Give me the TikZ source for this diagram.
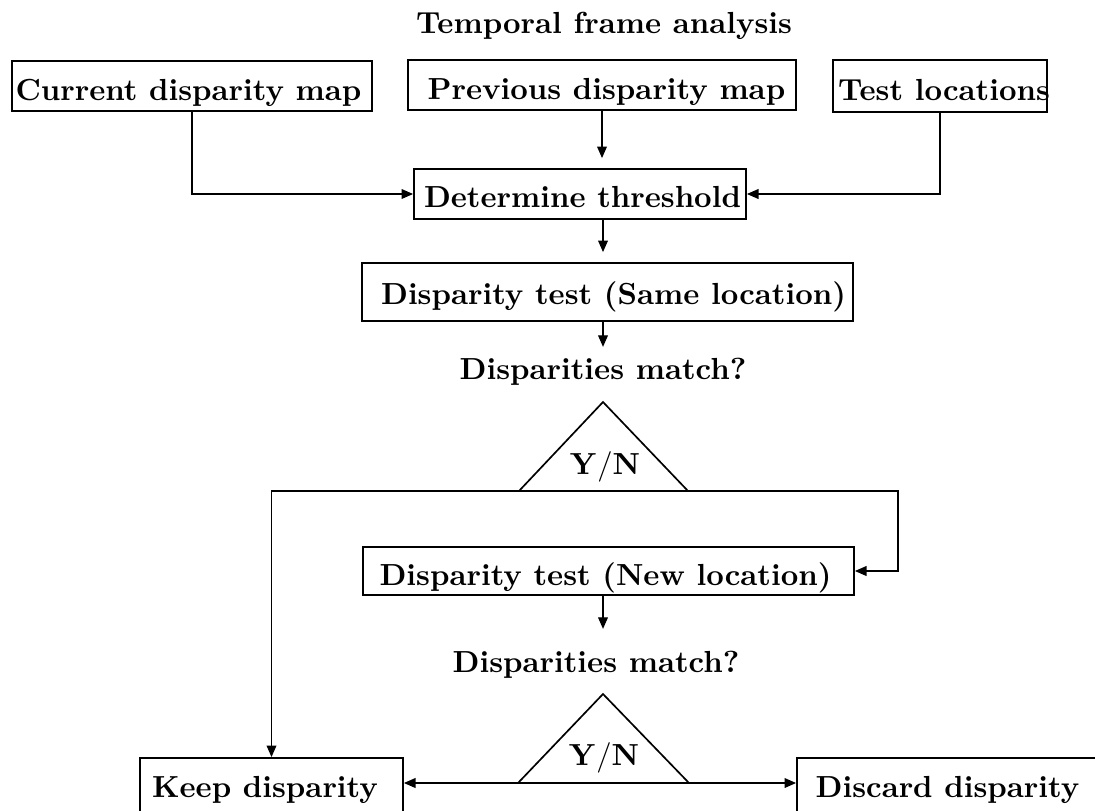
\documentclass[tikz,border=0pt]{standalone}
\usetikzlibrary{arrows.meta}
\newdimen\pxu
\pxu=0.328pt
% text inside a fixed-size box, moved sideways by #1 (in px units)
\newcommand\boxtext[2]{\makebox[0pt]{\hspace*{#1\pxu}\hspace*{#1\pxu}#2}}
\tikzset{
  stepbox/.style={draw, line width=0.6pt, inner sep=0pt, font=\bfseries},
  wire/.style={line width=0.45pt, -{Triangle[length=3.8pt, width=3.2pt]}},
  lbl/.style={font=\bfseries, anchor=base},
  tri/.style={line width=0.55pt, line join=miter},
}
\begin{document}
\begin{tikzpicture}[x=0.328pt, y=-0.328pt]
\useasboundingbox (0,0) rectangle (1095,810);
\clip (0,0) rectangle (1095,810);

% title
\node[lbl] (title) at (604,33) {Temporal frame analysis};

% inputs
\node[stepbox, minimum width=360*\pxu, text height=39*\pxu, text depth=11*\pxu]
  (cur) at (192,86) {\boxtext{-3.5}{Current disparity map}};
\node[stepbox, minimum width=388*\pxu, text height=39*\pxu, text depth=11*\pxu]
  (prev) at (602,85) {\boxtext{4.5}{Previous disparity map}};
\node[stepbox, minimum width=214*\pxu, text height=40*\pxu, text depth=12*\pxu]
  (test) at (940,86) {\boxtext{4}{Test locations}};

% processing steps
\node[stepbox, minimum width=332*\pxu, text height=38*\pxu, text depth=12*\pxu]
  (det) at (580,194) {\boxtext{2.5}{Determine threshold}};
\node[stepbox, minimum width=491*\pxu, text height=41*\pxu, text depth=17*\pxu]
  (same) at (607.5,292) {\boxtext{6}{Disparity test (Same location)}};
\node[stepbox, minimum width=491*\pxu, text height=38*\pxu, text depth=10*\pxu]
  (new) at (608.5,571) {\boxtext{-3}{Disparity test (New location)}};

% outcomes
\node[stepbox, minimum width=263*\pxu, text height=39*\pxu, text depth=15*\pxu]
  (keep) at (271.5,785) {\boxtext{-6.5}{Keep disparity}};
\node[stepbox, minimum width=303*\pxu, text height=39*\pxu, text depth=15*\pxu]
  (disc) at (948.5,785) {\boxtext{-1}{Discard disparity}};

% decisions
\node[lbl] (m1) at (603,379) {Disparities match?};
\coordinate (t1a) at (603,402);
\coordinate (t1l) at (519,491);
\coordinate (t1r) at (688,491);
\draw[tri] (t1a) -- (t1l) -- (t1r) -- cycle;
\node[lbl] (yn1) at (605,474) {$\mathbf{Y/N}$};

\node[lbl] (m2) at (596,672) {Disparities match?};
\coordinate (t2a) at (603,694);
\coordinate (t2l) at (518,783);
\coordinate (t2r) at (689,783);
\draw[tri] (t2a) -- (t2l) -- (t2r) -- cycle;
\node[lbl] (yn2) at (604,765) {$\mathbf{Y/N}$};

% connectors
\draw[wire] (cur.south) |- (det.west);
\draw[wire] (test.south) |- (det.east);
\draw[wire, shorten >=10\pxu] (prev.south) -- (prev.south |- det.north);
\draw[wire, shorten >=10\pxu] (det.south -| t1a) -- (same.north -| t1a);
\draw[wire] (same.south -| m1.north) -- (m1.north);

\coordinate (c1) at (898,491);
\draw[wire] (t1l) -| (keep.north);
\draw[wire] (t1r) -- (c1) |- (new.east);

\draw[wire, shorten >=11\pxu] (new.south -| t2a) -- (m2.north -| t2a);
\draw[wire] (t2l) -- (t2l -| keep.east);
\draw[wire] (t2r) -- (t2r -| disc.west);
\end{tikzpicture}
\end{document}
